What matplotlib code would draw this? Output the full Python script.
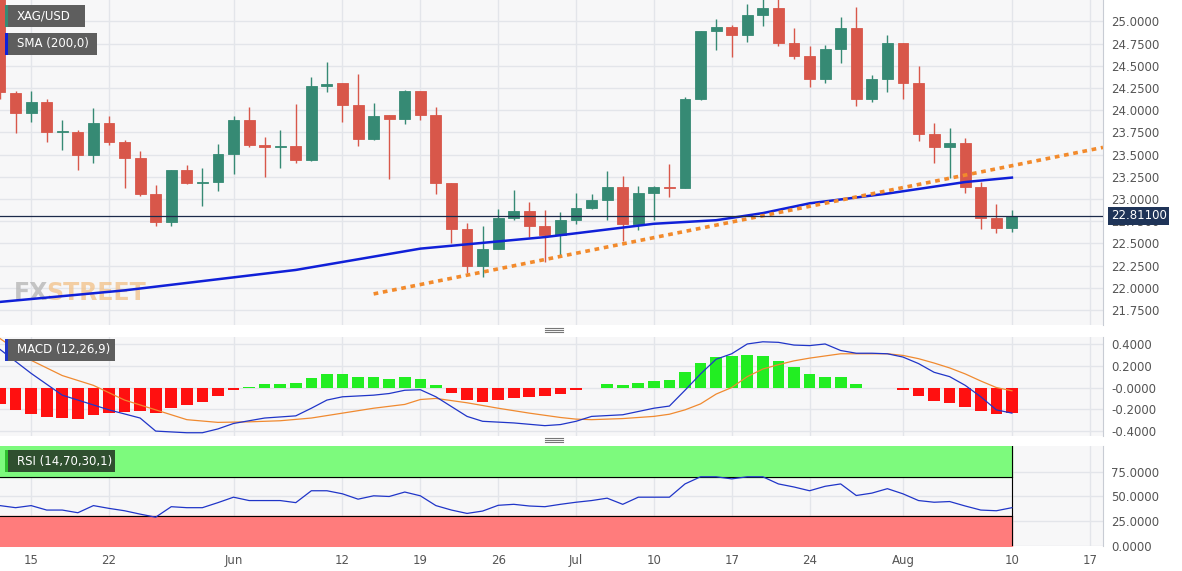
# XAG/USD daily chart with SMA 200, MACD and RSI panels
import numpy as np
import matplotlib.pyplot as plt
from matplotlib.patches import Rectangle

W, H = 1182, 571

# Daily candles May 11 .. Aug 10 (weekday index 0..65)
opens = [25.45, 24.19, 23.97, 24.09, 23.75, 23.75, 23.50, 23.85, 23.64, 23.46,
         23.06, 22.74, 23.32, 23.18, 23.19, 23.51, 23.89, 23.61, 23.58, 23.60,
         23.44, 24.27, 24.30, 24.06, 23.68, 23.94, 23.90, 24.21, 23.95, 23.18,
         22.66, 22.25, 22.44, 22.78, 22.86, 22.70, 22.59, 22.76, 22.90, 22.99,
         23.13, 22.72, 23.07, 23.13, 23.12, 24.13, 24.89, 24.94, 24.85, 25.07,
         25.15, 24.76, 24.61, 24.35, 24.69, 24.93, 24.13, 24.35, 24.76, 24.30,
         23.73, 23.58, 23.63, 23.13, 22.78, 22.67]
highs = [25.50, 24.21, 24.22, 24.12, 23.89, 23.78, 24.02, 23.93, 23.66, 23.54,
         23.16, 23.33, 23.38, 23.35, 23.62, 23.93, 24.03, 23.70, 23.78, 24.07,
         24.37, 24.54, 24.31, 24.41, 24.08, 23.94, 24.23, 24.21, 24.04, 23.18,
         22.73, 22.69, 22.89, 23.10, 22.97, 22.88, 22.85, 23.07, 23.06, 23.31,
         23.26, 23.15, 23.15, 23.39, 24.15, 24.89, 25.03, 24.96, 25.19, 25.25,
         25.27, 24.92, 24.72, 24.73, 25.05, 25.16, 24.40, 24.85, 24.76, 24.50,
         23.85, 23.80, 23.69, 23.19, 22.94, 22.87]
lows = [24.12, 23.74, 23.87, 23.64, 23.55, 23.32, 23.40, 23.61, 23.12, 23.03,
        22.70, 22.69, 23.17, 22.92, 23.09, 23.28, 23.58, 23.25, 23.35, 23.40,
        23.43, 24.20, 23.87, 23.60, 23.66, 23.22, 23.84, 23.89, 23.06, 22.50,
        22.17, 22.12, 22.44, 22.76, 22.57, 22.29, 22.36, 22.72, 22.89, 22.76,
        22.53, 22.65, 22.76, 23.02, 23.12, 24.11, 24.68, 24.60, 24.77, 24.95,
        24.72, 24.58, 24.26, 24.30, 24.53, 24.05, 24.09, 24.20, 24.12, 23.65,
        23.41, 23.23, 23.07, 22.66, 22.62, 22.63]
closes = [24.20, 23.97, 24.09, 23.75, 23.76, 23.50, 23.85, 23.64, 23.46, 23.06,
          22.74, 23.32, 23.18, 23.19, 23.51, 23.89, 23.61, 23.58, 23.60, 23.44,
          24.27, 24.29, 24.06, 23.68, 23.93, 23.90, 24.21, 23.95, 23.18, 22.66,
          22.25, 22.44, 22.78, 22.86, 22.70, 22.59, 22.76, 22.90, 22.99, 23.13,
          22.72, 23.07, 23.13, 23.12, 24.13, 24.89, 24.94, 24.85, 25.07, 25.15,
          24.76, 24.61, 24.35, 24.69, 24.93, 24.13, 24.35, 24.76, 24.30, 23.73,
          23.58, 23.63, 23.13, 22.78, 22.67, 22.81]

sma_idx = [0, 8, 19, 27, 35, 42, 46, 49, 52, 57, 62, 65]
sma_val = [21.84, 21.97, 22.20, 22.44, 22.57, 22.72, 22.76, 22.84, 22.95, 23.06, 23.19, 23.24]

trend_idx = [24, 70.85]
trend_val = [21.93, 23.58]

last_price = 22.811

macd_hist = [-0.15, -0.21, -0.245, -0.275, -0.28, -0.29, -0.25, -0.235, -0.225, -0.22,
             -0.235, -0.19, -0.16, -0.13, -0.08, -0.02, 0.003, 0.03, 0.035, 0.04,
             0.09, 0.125, 0.125, 0.10, 0.095, 0.08, 0.095, 0.08, 0.025, -0.05,
             -0.115, -0.13, -0.115, -0.095, -0.085, -0.075, -0.055, -0.025, -0.002, 0.03,
             0.02, 0.04, 0.06, 0.07, 0.14, 0.225, 0.28, 0.29, 0.295, 0.285,
             0.24, 0.19, 0.125, 0.10, 0.095, 0.03, -0.001, -0.003, -0.025, -0.08,
             -0.125, -0.14, -0.18, -0.22, -0.24, -0.235]
macd_idx = [0, 2, 4, 7, 9, 10, 12, 13, 14, 15, 17, 19, 20, 21, 22, 24, 25, 26, 27, 28,
            29, 30, 31, 33, 35, 36, 37, 38, 40, 41, 42, 43, 44, 45, 46, 47, 48, 49, 50,
            51, 52, 53, 54, 55, 56, 57, 58, 59, 60, 61, 62, 63, 64, 65]
macd_line = [0.35, 0.13, -0.07, -0.205, -0.28, -0.40, -0.415, -0.415, -0.38, -0.33,
             -0.28, -0.26, -0.19, -0.115, -0.085, -0.07, -0.055, -0.025, -0.02, -0.085,
             -0.175, -0.265, -0.31, -0.325, -0.35, -0.34, -0.31, -0.265, -0.25, -0.22,
             -0.19, -0.17, -0.025, 0.125, 0.26, 0.31, 0.40, 0.42, 0.415, 0.39,
             0.385, 0.40, 0.34, 0.315, 0.315, 0.31, 0.28, 0.22, 0.14, 0.10,
             0.02, -0.085, -0.205, -0.235]
sig_idx = [0, 2, 4, 6, 8, 10, 12, 14, 16, 18, 20, 22, 24, 26, 27, 28, 30, 32, 34, 36,
           37, 38, 40, 42, 43, 44, 45, 46, 47, 48, 49, 50, 51, 52, 53, 54, 56, 57, 58,
           59, 60, 61, 62, 63, 64, 65]
sig_line = [0.45, 0.25, 0.11, 0.02, -0.115, -0.205, -0.295, -0.32, -0.315, -0.305,
            -0.28, -0.235, -0.19, -0.155, -0.11, -0.10, -0.14, -0.19, -0.235, -0.275,
            -0.29, -0.295, -0.285, -0.265, -0.245, -0.205, -0.15, -0.06, 0.0, 0.10,
            0.17, 0.21, 0.245, 0.27, 0.29, 0.31, 0.31, 0.31, 0.295, 0.265,
            0.225, 0.18, 0.125, 0.06, 0.0, -0.03]

rsi = [40.8, 38.7, 40.8, 36.3, 36.3, 33.6, 40.8, 38.0, 35.6, 32.2,
       29.1, 39.7, 38.7, 38.7, 43.8, 49.3, 45.9, 45.9, 45.9, 43.8,
       55.8, 55.8, 52.7, 47.3, 50.7, 50.0, 54.5, 50.7, 40.8, 36.3,
       32.9, 35.3, 41.1, 42.1, 40.4, 39.7, 42.1, 44.2, 45.9, 48.3,
       42.1, 49.3, 49.3, 49.3, 62.7, 69.9, 69.9, 67.8, 69.9, 69.9,
       62.7, 59.6, 55.8, 60.3, 62.7, 51.0, 53.4, 57.9, 52.7, 45.9,
       44.2, 44.9, 40.4, 36.3, 35.6, 38.7]

tick_pos = [2, 7, 15, 22, 27, 32, 37, 42, 47, 52, 58, 65, 70]
tick_lab = ['15', '22', 'Jun', '12', '19', '26', 'Jul', '10', '17', '24', 'Aug', '10', '17']

price_ticks = [21.75, 22.0, 22.25, 22.5, 22.75, 23.0, 23.25, 23.5, 23.75, 24.0, 24.25, 24.5, 24.75, 25.0]
macd_ticks = [-0.4, -0.2, 0.0, 0.2, 0.4]
macd_tlab = ['-0.4000', '-0.2000', '-0.0000', '0.2000', '0.4000']
rsi_ticks = [0, 25, 50, 75]

GREEN = '#368a74'
RED = '#d8574a'
BG = '#f7f7f8'
GRID = '#e3e5ea'
XMAX = 70.85


def rect(l, t, r, b):
    return [l / W, 1 - b / H, (r - l) / W, (b - t) / H]


def style(ax):
    ax.set_facecolor(BG)
    ax.set_xlim(0, XMAX)
    ax.yaxis.tick_right()
    ax.set_xticks(tick_pos)
    ax.grid(True, color=GRID, linewidth=1)
    ax.set_axisbelow(True)
    ax.tick_params(axis='both', length=0, labelsize=8.5, colors='#555555', pad=6)
    for s in ax.spines.values():
        s.set_visible(False)
    ax.spines['right'].set_visible(True)
    ax.spines['right'].set_color('#c8ccd4')


def tag(ax, y, w, text, stripe, bg='#5e5e5e'):
    ax.add_patch(Rectangle((5 / 1103, y[0]), w / 1103, y[1], transform=ax.transAxes,
                           facecolor=bg, edgecolor='none', zorder=10))
    ax.add_patch(Rectangle((5 / 1103, y[0]), 3 / 1103, y[1], transform=ax.transAxes,
                           facecolor=stripe, edgecolor='none', zorder=11))
    ax.text(17 / 1103, y[0] + y[1] / 2, text, transform=ax.transAxes, color='white',
            fontsize=8.5, va='center', ha='left', zorder=12)


fig = plt.figure(figsize=(W / 100, H / 100), dpi=100)
fig.patch.set_facecolor('white')

# Main price panel
ax = fig.add_axes(rect(0, 0, 1103, 325))
style(ax)
ax.set_ylim(21.58, 25.24)
ax.set_yticks(price_ticks)
ax.set_yticklabels(['%.4f' % v for v in price_ticks])
ax.set_xticklabels([])
x = np.arange(len(opens))
o, h, l, c = map(np.array, (opens, highs, lows, closes))
cols = np.where(c >= o, GREEN, RED)
ax.vlines(x, l, h, colors=cols, linewidth=1, zorder=3)
ax.bar(x, np.maximum(np.abs(c - o), 0.012), bottom=np.minimum(o, c), width=0.7,
       color=cols, edgecolor=cols, linewidth=0.6, zorder=4)
ax.plot(sma_idx, sma_val, color='#1020d8', linewidth=1.8, zorder=5)
ax.plot(trend_idx, trend_val, color='#f28a2c', linewidth=2.6, linestyle=(0, (1.3, 1.3)), zorder=5)
ax.axhline(last_price, color='#1c2a4a', linewidth=0.9, zorder=6)
ax.text(1.007, last_price, '%.5f' % last_price, transform=ax.get_yaxis_transform(),
        color='white', fontsize=8.5, va='center', ha='left', zorder=12,
        bbox=dict(boxstyle='square,pad=0.2', facecolor='#1f3458', edgecolor='none'),
        clip_on=False)
tag(ax, (1 - 27 / 325, 22 / 325), 80, 'XAG/USD', GREEN)
tag(ax, (1 - 55 / 325, 22 / 325), 92, 'SMA (200,0)', '#1020d8')
ax.text(14 / 1103, 32 / 325, 'FX', transform=ax.transAxes, color='#b8b8b8', alpha=0.8,
        fontsize=17, fontweight='bold', va='center')
ax.text(46 / 1103, 32 / 325, 'STREET', transform=ax.transAxes, color='#f2c48e', alpha=0.8,
        fontsize=17, fontweight='bold', va='center')

# MACD panel
axm = fig.add_axes(rect(0, 337, 1103, 436))
style(axm)
axm.set_ylim(-0.445, 0.464)
axm.set_yticks(macd_ticks)
axm.set_yticklabels(macd_tlab)
axm.set_xticklabels([])
hist = np.array(macd_hist)
axm.bar(x, hist, width=0.75, color=np.where(hist >= 0, '#22ee22', '#ff1010'), zorder=3)
axm.plot(sig_idx, sig_line, color='#f08a30', linewidth=0.9, zorder=4)
axm.plot(macd_idx, macd_line, color='#2035c8', linewidth=0.9, zorder=5)
tag(axm, (1 - 24 / 99, 22 / 99), 110, 'MACD (12,26,9)', '#2035c8')

# RSI panel
axr = fig.add_axes(rect(0, 446, 1103, 546))
style(axr)
axr.set_ylim(0, 101)
axr.set_yticks(rsi_ticks)
axr.set_yticklabels(['%.4f' % v for v in rsi_ticks])
axr.set_xticklabels(tick_lab)
axr.fill_between([0, 65], 70, 101, color='#7dfa7d', zorder=2)
axr.fill_between([0, 65], 0, 30, color='#ff7c7c', zorder=2)
axr.plot([0, 65], [70, 70], color='black', linewidth=0.8, zorder=3)
axr.plot([0, 65], [30, 30], color='black', linewidth=0.8, zorder=3)
axr.plot([65, 65], [0, 101], color='black', linewidth=0.8, zorder=3)
axr.plot(x, rsi, color='#2035c8', linewidth=0.9, zorder=4)
tag(axr, (1 - 26 / 100, 22 / 100), 110, 'RSI (14,70,30,1)', '#2fbf2f', bg='#2f4f2f')

# separator handles
for yy in (330, 440):
    for dy in (-2, 0, 2):
        fig.add_artist(plt.Line2D([545 / W, 563 / W], [1 - (yy + dy) / H] * 2,
                                  color='#777777', linewidth=0.8))

fig.savefig('out.png', dpi=100)
